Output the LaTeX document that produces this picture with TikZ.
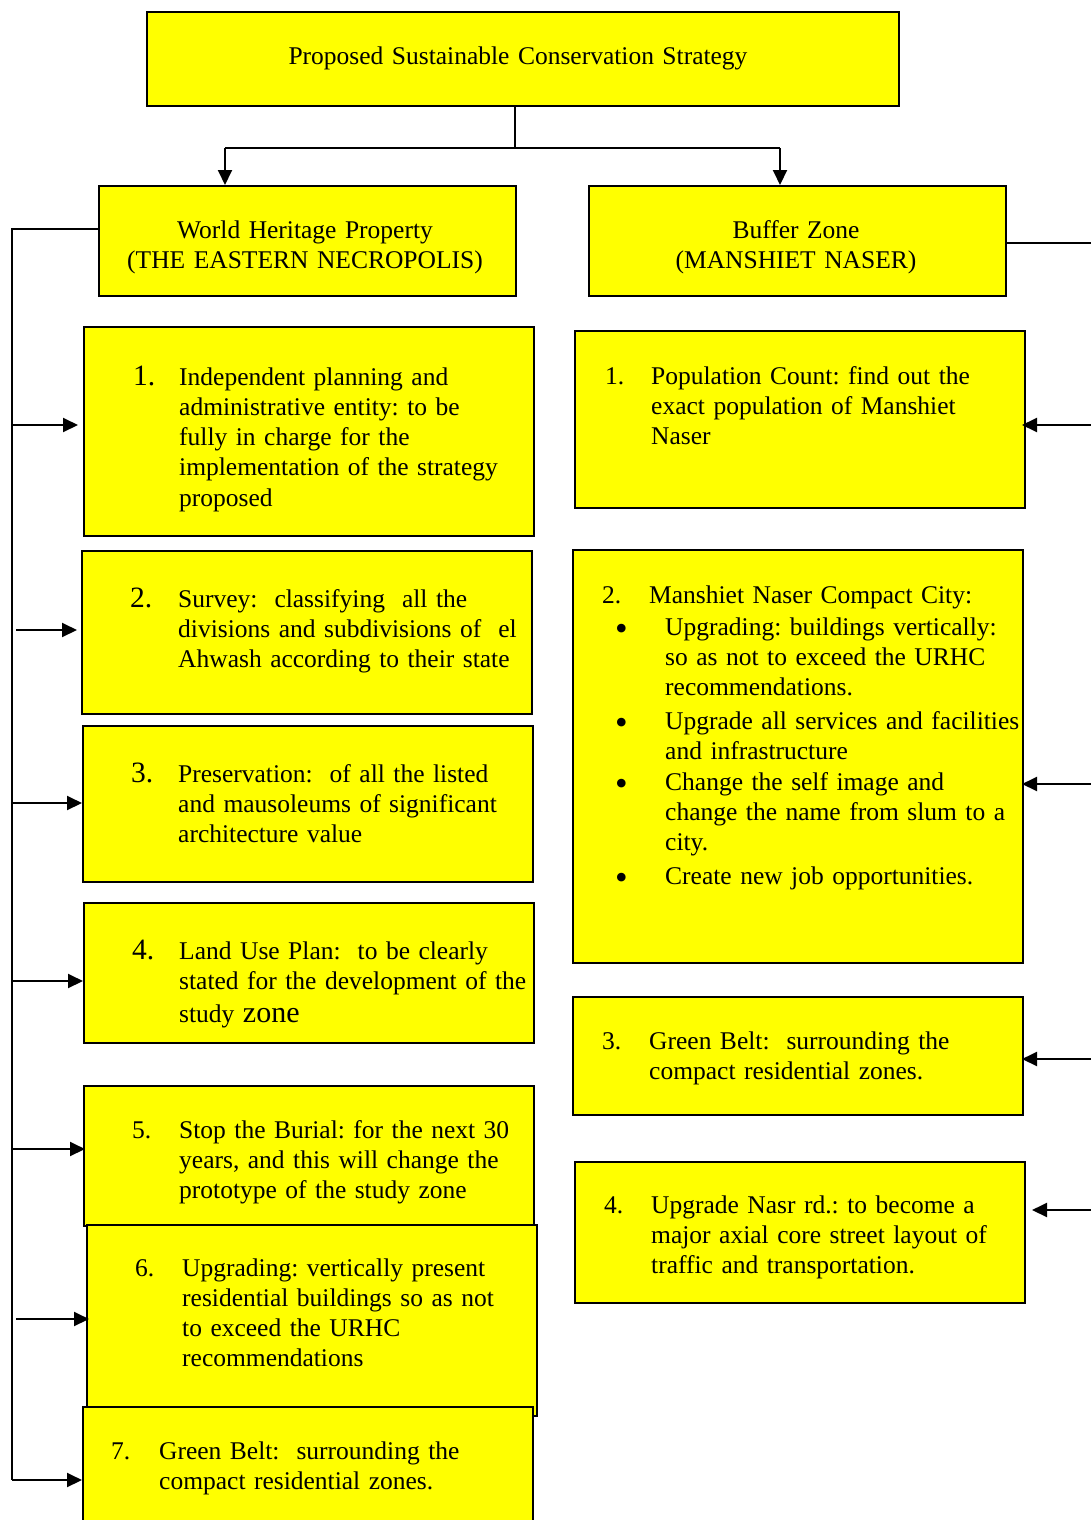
\documentclass[tikz,border=0pt]{standalone}
\usepackage{fontspec}
\setmainfont{Liberation Serif}
\usetikzlibrary{arrows.meta}
\definecolor{boxyellow}{HTML}{FFFF00}
\newcommand{\bodyfont}{\fontsize{25.5}{30.3}\selectfont\frenchspacing}
\tikzset{
  box/.style={draw=black, line width=2pt, fill=boxyellow, rectangle, inner sep=0pt, anchor=north west},
  txt/.style={anchor=base west, inner sep=0pt, align=left, text width=440pt, font=\bodyfont},
  ctxt/.style={anchor=base, inner sep=0pt, align=center, text width=440pt, font=\bodyfont},
  num/.style={anchor=base west, inner sep=0pt, font=\bodyfont},
  bignum/.style={anchor=base west, inner sep=0pt, font=\fontsize{29.5}{34}\selectfont},
  bul/.style={anchor=base west, inner sep=0pt, font=\fontsize{36}{40}\selectfont},
  link/.style={line width=2pt, draw=black},
  arr/.style={link, -{Triangle[length=15pt,width=14pt]}},
}
\begin{document}
\begin{tikzpicture}[x=1pt,y=-1pt]
\useasboundingbox (0,0) rectangle (1090,1520);

% ---------- top ----------
\node[box, minimum width=752pt, minimum height=94pt] (top) at (146,11) {};
\node[ctxt, text width=720pt] (toptxt) at (518,64) {Proposed Sustainable Conservation Strategy};

\node[box, minimum width=417pt, minimum height=110pt] (wh) at (98,185) {};
\node[ctxt] (whtxt) at (305,238) {World Heritage Property\\(THE EASTERN NECROPOLIS)};

\node[box, minimum width=417pt, minimum height=110pt] (bz) at (588,185) {};
\node[ctxt] (bztxt) at (796,238) {Buffer Zone\\(MANSHIET NASER)};

% ---------- left column ----------
\node[box, minimum width=450pt, minimum height=209pt] (b1) at (83,326) {};
\node[bignum] (n1) at (133,385) {1.};
\node[txt] (t1) at (179,385) {Independent planning and\\administrative entity: to be\\fully in charge for the\\implementation of the strategy\\proposed};

\node[box, minimum width=450pt, minimum height=163pt] (b2) at (81,550) {};
\node[bignum] (n2) at (130,607) {2.};
\node[txt] (t2) at (178,607) {Survey:\ \ classifying\ \ all the\\divisions and subdivisions of\ \ el\\Ahwash according to their state};

\node[box, minimum width=450pt, minimum height=156pt] (b3) at (82,725) {};
\node[bignum] (n3) at (131,782) {3.};
\node[txt] (t3) at (178,782) {Preservation:\ \ of all the listed\\and mausoleums of significant\\architecture value};

\node[box, minimum width=450pt, minimum height=140pt] (b4) at (83,902) {};
\node[bignum] (n4) at (132,959) {4.};
\node[txt] (t4) at (179,959) {Land Use Plan:\ \ to be clearly\\stated for the development of the\\[3pt]study {\fontsize{30}{34}\selectfont zone}};

\node[box, minimum width=450pt, minimum height=140pt] (b5) at (83,1085) {};
\node[num] (n5) at (132,1138) {5.};
\node[txt] (t5) at (179,1138) {Stop the Burial: for the next 30\\years, and this will change the\\prototype of the study zone};

\node[box, minimum width=450pt, minimum height=191pt] (b6) at (86,1224) {};
\node[num] (n6) at (135,1276) {6.};
\node[txt] (t6) at (182,1276) {Upgrading: vertically present\\residential buildings so as not\\to exceed the URHC\\recommendations};

\node[box, minimum width=450pt, minimum height=130pt] (b7) at (82,1406) {};
\node[num] (n7) at (111,1459) {7.};
\node[txt] (t7) at (159,1459) {Green Belt:\ \ surrounding the\\compact residential zones.};

% ---------- right column ----------
\node[box, minimum width=450pt, minimum height=177pt] (r1) at (574,330) {};
\node[num] (m1) at (605,384) {1.};
\node[txt] (s1) at (651,384) {Population Count: find out the\\exact population of Manshiet\\Naser};

\node[box, minimum width=450pt, minimum height=413pt] (r2) at (572,549) {};
\node[num] (m2) at (602,603) {2.};
\node[txt] (s2) at (649,603) {Manshiet Naser Compact City:};
\node[bul] (d1) at (615,640) {\textbullet};
\node[txt] (s2a) at (665,635) {Upgrading: buildings vertically:\\so as not to exceed the URHC\\recommendations.};
\node[bul] (d2) at (615,734) {\textbullet};
\node[txt] (s2b) at (665,729) {Upgrade all services and facilities\\and infrastructure};
\node[bul] (d3) at (615,795) {\textbullet};
\node[txt] (s2c) at (665,790) {Change the self image and\\change the name from slum to a\\city.};
\node[bul] (d4) at (615,889) {\textbullet};
\node[txt] (s2d) at (665,884) {Create new job opportunities.};

\node[box, minimum width=450pt, minimum height=118pt] (r3) at (572,996) {};
\node[num] (m3) at (602,1049) {3.};
\node[txt] (s3) at (649,1049) {Green Belt:\ \ surrounding the\\compact residential zones.};

\node[box, minimum width=450pt, minimum height=141pt] (r4) at (574,1161) {};
\node[num] (m4) at (604,1213) {4.};
\node[txt] (s4) at (651,1213) {Upgrade Nasr rd.: to become a\\major axial core street layout of\\traffic and transportation.};

% ---------- top connectors ----------
\coordinate (jM) at (515,148);
\coordinate (jL) at (225,148);
\coordinate (jR) at (780,148);
\draw[link] (jM |- top.south) -- (jM);
\draw[link] (jL) -- (jR);
\draw[arr] (jL) -- (jL |- wh.north);
\draw[arr] (jR) -- (jR |- bz.north);

% ---------- left bus ----------
\coordinate (busTop) at (12,229);
\coordinate (busBot) at (12,1480);
\draw[link] (wh.west |- busTop) -- (busTop) -- (busBot);
\coordinate (la1) at (12,425);
\coordinate (la2) at (16,630);
\coordinate (la3) at (12,803);
\coordinate (la4) at (12,981);
\coordinate (la5) at (12,1149);
\coordinate (la6) at (16,1319);
\draw[arr] (la1) -- ([xshift=-5pt]la1 -| b1.west);
\draw[arr] (la2) -- ([xshift=-4pt]la2 -| b2.west);
\draw[arr] (la3) -- (la3 -| b3.west);
\draw[arr] (la4) -- (la4 -| b4.west);
\draw[arr] (la5) -- ([xshift=2pt]la5 -| b5.west);
\draw[arr] (la6) -- ([xshift=3pt]la6 -| b6.west);
\draw[arr] (busBot) -- (busBot -| b7.west);

% ---------- right bus ----------
\coordinate (rbTop) at (1092,243);
\draw[link] (bz.east |- rbTop) -- (rbTop);
\coordinate (ra1) at (1092,425);
\coordinate (ra2) at (1092,784);
\coordinate (ra3) at (1092,1059);
\coordinate (ra4) at (1092,1210);
\draw[arr] (ra1) -- ([xshift=-4pt]ra1 -| r1.east);
\draw[arr] (ra2) -- ([xshift=-2pt]ra2 -| r2.east);
\draw[arr] (ra3) -- ([xshift=-2pt]ra3 -| r3.east);
\draw[arr] (ra4) -- ([xshift=6pt]ra4 -| r4.east);
\end{tikzpicture}
\end{document}
